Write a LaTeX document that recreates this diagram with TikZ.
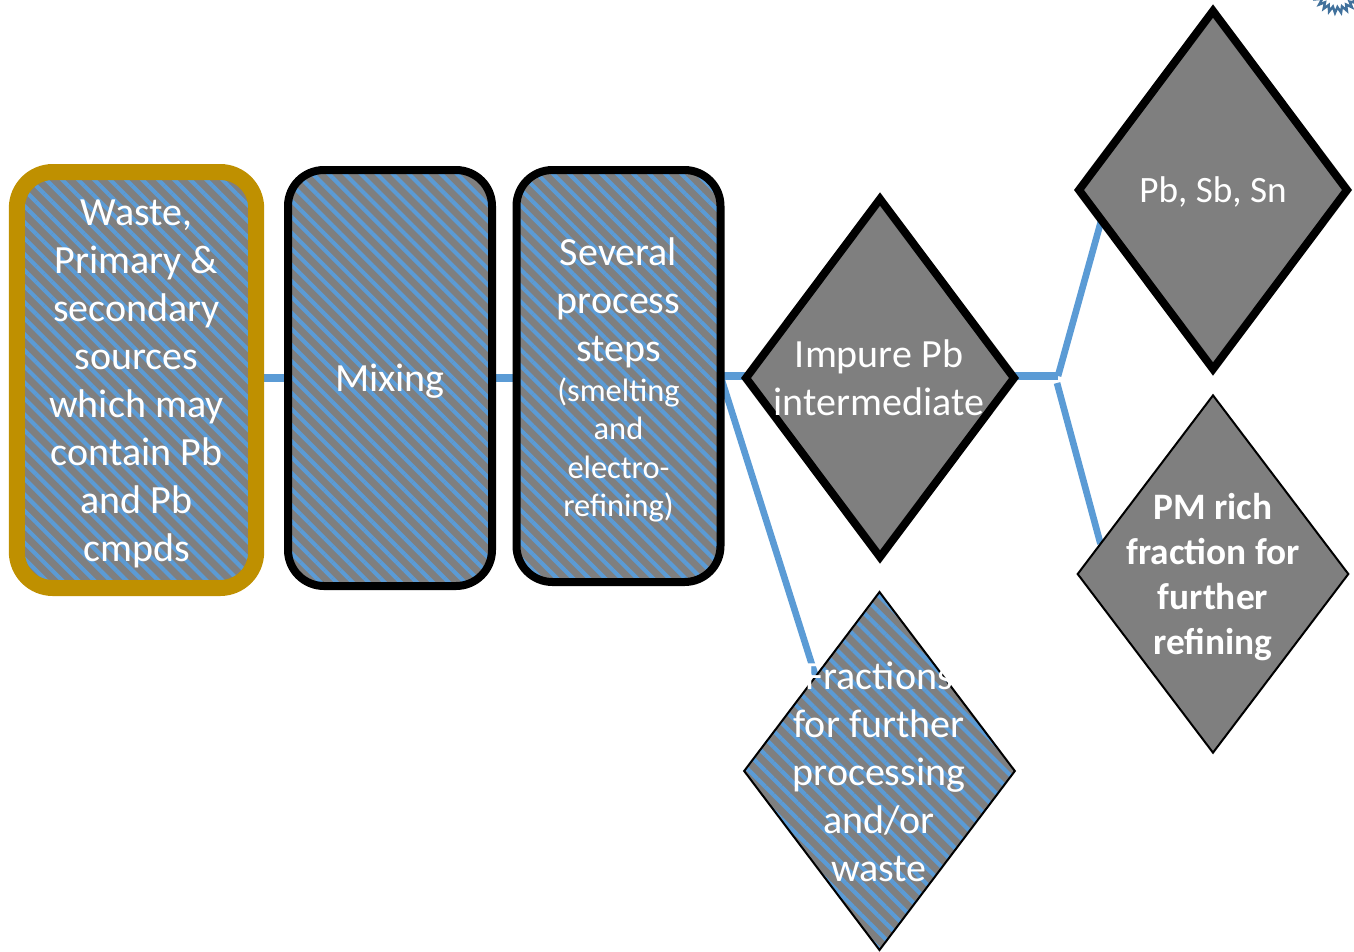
\documentclass[tikz,border=0pt]{standalone}
\usepackage{fontspec}
\setmainfont{Carlito}
\usetikzlibrary{shapes.geometric,patterns.meta,backgrounds,decorations.pathmorphing}
\definecolor{stripeblue}{HTML}{5B9BD5}
\definecolor{boxgrey}{HTML}{7F7F7F}
\definecolor{sourcegold}{HTML}{BF9000}
\definecolor{gearblue}{HTML}{41719C}
\newcommand{\subline}{\fontsize{24.3}{28.5}\selectfont}
\tikzset{
	striped/.style={preaction={fill=boxgrey},pattern={Lines[angle=-45,distance=8.5pt,line width=3.1pt]},pattern color=stripeblue},
	stepbox/.style={rectangle,rounded corners=27pt,inner sep=0pt,outer sep=0pt,striped},
	choice/.style={diamond,inner sep=0pt,outer sep=0pt,minimum width=201pt,minimum height=268.5pt},
	pipe/.style={draw=stripeblue,line width=5pt},
	fatpipe/.style={draw=stripeblue,line width=6pt},
	lbl/.style={text=white,align=center,font=\fontsize{30}{36}\selectfont},
}
\begin{document}
\begin{tikzpicture}[x=0.75pt,y=-0.75pt]
	\useasboundingbox (0,0) rectangle (1354,951);
	\node[stepbox,draw=sourcegold,line width=12pt,minimum width=179.5pt,minimum height=312pt] (waste) at (136.5,380) {};
	\node[stepbox,draw=black,line width=6pt,minimum width=153pt,minimum height=312pt] (mixing) at (390,378) {};
	\node[stepbox,draw=black,line width=6pt,minimum width=153pt,minimum height=309pt] (steps) at (618.5,376) {};
	\node[choice,draw=black,line width=6pt,fill=boxgrey] (impure) at (880,378) {};
	\node[choice,draw=black,line width=6pt,fill=boxgrey] (metals) at (1213,190) {};
	\node[choice,draw=black,line width=1.5pt,fill=boxgrey,minimum width=203pt,minimum height=268pt] (rich) at (1213,574) {};
	\node[choice,draw=black,line width=1.5pt,striped,minimum width=203pt] (fractions) at (879.5,771) {};
	% text goes on top, it is wider than some of the shapes
	\node[lbl] (wastetext) at (136.5,384) {Waste,\\Primary \&\\secondary\\sources\\which may\\contain Pb\\and Pb\\cmpds};
	\node[lbl] (mixingtext) at (390,381) {Mixing};
	\node[lbl,anchor=north] (stepstext) at (618.5,233) {Several\\process\\steps\\[-6pt]\subline (smelting\\[-7.3pt]\subline and\\[-7.3pt]\subline electro-\\[-7.3pt]\subline refining)};
	\node[lbl] (impuretext) at (879,378) {Impure Pb\\intermediate};
	\node[lbl,font=\fontsize{27.9}{34}\selectfont] (metalstext) at (1213,192) {Pb, Sb, Sn};
	\node[lbl,font=\fontsize{28}{33.75}\selectfont\bfseries] (richtext) at (1213,577) {PM rich\\fraction for\\further\\refining};
	\node[lbl] (fractionstext) at (879,772) {Fractions\\for further\\processing\\and/or\\waste};
	% pipes
	\coordinate (joint) at (1058,376);
	\coordinate (jointlow) at (1057,383);
	\begin{scope}[on background layer]
		\draw[fatpipe] (waste.east |- mixing.west) -- (mixing.west);
		\draw[fatpipe] (mixing.east) -- (mixing.east -| steps.west);
		\draw[fatpipe] (joint -| steps.east) -- (joint -| impure.west);
		\draw[pipe] (steps.east) -- (fractions.124);
		\draw[fatpipe] (joint -| impure.east) -- (joint);
		\draw[pipe] (joint) -- (metals.195);
		\draw[pipe] (jointlow) -- (rich.165);
	\end{scope}
	% bit of a gear cut off by the page
	\begin{scope}
		\clip (0,0) rectangle (1354,951);
		\draw[gearblue,line width=1.8pt,decorate,decoration={zigzag,segment length=4pt,amplitude=2.2pt}] (1337,-10) circle (20);
	\end{scope}
\end{tikzpicture}
\end{document}
